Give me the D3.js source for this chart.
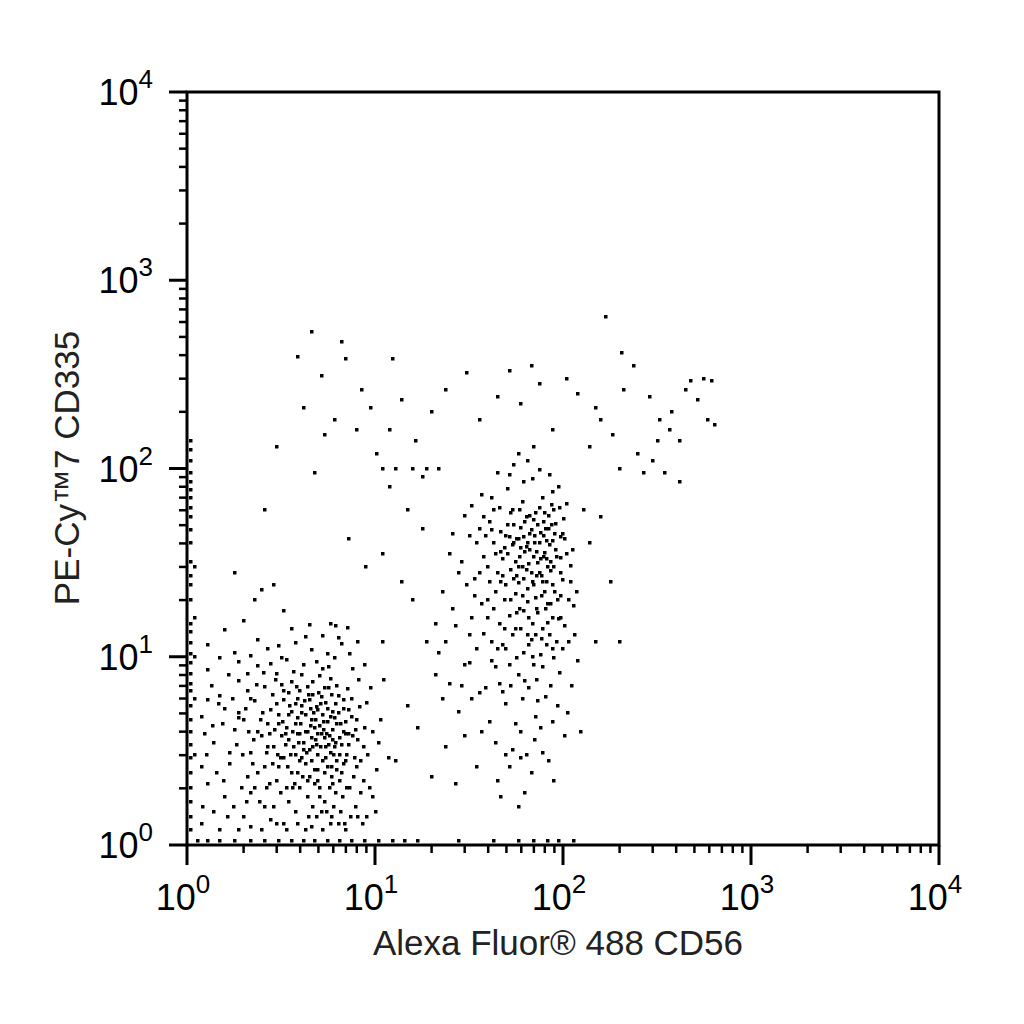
<!DOCTYPE html>
<html><head><meta charset="utf-8">
<script src="https://cdn.jsdelivr.net/npm/d3@7"></script>
<style>body{margin:0;background:#fff}svg{font-family:Arial,"Liberation Sans",sans-serif}</style>
</head><body><svg width="1024" height="1024"></svg>
<script>
// dot plot events: [CD56, CD335]
const lowCluster = [
[1.2,1.3],[1.3,2.1],[1.4,3.5],[1.2,4.8],[1.5,6.2],[1.3,8.5],[1.6,1.8],[1.7,2.7],[1.8,4.1],[1.6,5.3],
[1.9,7.4],[1.8,10.5],[2.0,1.4],[2.1,2.3],[2.2,3.1],[2.0,4.6],[2.3,5.8],[2.1,8.1],[2.4,12.2],[2.2,1.9],
[2.5,1.2],[2.6,2.6],[2.5,3.8],[2.7,4.4],[2.6,6.9],[2.8,9.2],[2.9,1.6],[3.0,2.2],[2.9,3.3],[3.1,4.9],
[3.0,5.6],[3.2,7.1],[3.1,11.4],[3.3,1.3],[3.4,2.0],[3.3,2.9],[3.5,3.6],[3.4,4.2],[3.6,5.1],[3.5,6.4],
[3.7,8.3],[3.6,14.1],[3.8,1.5],[3.9,2.4],[3.8,3.0],[4.0,3.9],[3.9,4.7],[4.1,5.5],[4.0,6.6],[4.2,9.0],
[4.3,1.2],[4.4,1.8],[4.3,2.7],[4.5,3.2],[4.4,4.0],[4.6,4.6],[4.5,5.9],[4.7,7.3],[4.6,10.8],[4.8,2.1],
[4.9,1.4],[5.0,2.5],[4.9,3.4],[5.1,4.3],[5.0,5.2],[5.2,6.1],[5.1,7.9],[5.3,12.9],[5.4,1.7],[5.5,2.9],
[5.4,3.7],[5.6,4.5],[5.5,5.7],[5.7,8.8],[5.8,1.3],[5.9,2.3],[5.8,3.1],[6.0,4.1],[5.9,6.3],[6.1,9.9],
[6.2,1.9],[6.3,2.8],[6.2,3.5],[6.4,5.0],[6.3,7.0],[6.6,1.5],[6.7,2.4],[6.6,4.4],[6.8,5.9],[6.7,11.7],
[7.0,1.2],[7.1,3.0],[7.0,3.9],[7.2,6.7],[7.4,2.0],[7.5,4.8],[7.6,8.6],[7.9,1.6],[8.0,2.6],[8.1,3.6],
[8.3,5.4],[8.6,1.3],[8.7,2.2],[8.9,4.2],[9.2,3.0],[9.5,6.8],[9.8,1.8],[10.3,2.5],[10.8,4.6],[1.2,2.6],
[1.4,1.5],[1.3,5.9],[1.5,9.8],[1.7,3.1],[1.9,1.2],[1.9,5.0],[2.1,6.6],[2.3,2.0],[2.4,4.0],[2.6,1.6],
[2.7,3.3],[2.8,5.2],[3.0,1.3],[3.1,2.6],[3.2,3.8],[3.3,5.9],[3.4,9.6],[3.5,1.7],[3.6,2.4],[3.7,3.3],
[3.8,4.4],[3.9,6.0],[4.0,2.0],[4.1,2.9],[4.2,3.5],[4.3,4.9],[4.4,6.9],[4.5,2.3],[4.6,3.7],[4.7,1.6],
[4.8,4.2],[4.9,5.4],[5.0,3.0],[5.1,2.0],[5.2,3.9],[5.3,4.9],[5.4,6.8],[5.6,2.6],[5.7,3.4],[5.8,4.8],
[6.0,2.1],[6.1,3.3],[6.2,5.6],[6.4,1.3],[6.5,3.7],[6.8,2.7],[7.0,4.5],[7.3,3.4],[7.7,2.3],[8.2,7.5],
[2.0,15.5],[2.3,20.0],[2.5,22.5],[3.3,17.5],[4.5,14.8],[5.8,15.0],[7.2,14.2],[2.9,24.0],[1.8,28.0],[6.4,12.6]
];
const lowCore = [
[1.25,3.9],[1.35,7.0],[1.45,2.4],[1.55,4.4],[1.65,1.4],[1.75,6.0],[1.85,3.4],[1.95,2.0],[2.05,5.3],[2.15,4.0],
[2.25,2.7],[2.35,7.1],[2.45,1.7],[2.55,5.0],[2.65,3.1],[2.75,2.1],[2.85,6.3],[2.95,4.1],[3.05,3.0],[3.15,1.9],
[3.25,4.5],[3.35,3.4],[3.45,2.6],[3.55,5.5],[3.65,4.0],[3.75,2.1],[3.85,6.9],[3.95,3.5],[4.05,4.4],[4.15,2.3],
[4.25,5.8],[4.35,3.1],[4.45,1.4],[4.55,4.3],[4.65,2.8],[4.75,5.0],[4.85,3.6],[4.95,2.2],[5.05,6.4],[5.15,3.3],
[5.25,1.5],[5.35,4.1],[5.45,2.4],[5.55,3.9],[5.65,5.3],[5.75,2.0],[5.85,7.6],[5.95,3.6],[6.05,1.6],[6.15,4.7],
[6.25,2.5],[6.45,6.2],[6.55,3.0],[6.75,1.8],[6.85,4.0],[7.05,2.8],[7.25,5.2],[7.45,1.4],[7.65,3.8],[7.85,2.9],
[8.05,4.6],[8.45,1.9],[8.75,3.3],[9.05,5.7],[9.35,2.0],[9.7,4.0],[10.1,1.5],[10.5,3.5],[11.2,7.5],[11.8,2.9],
[1.3,11.5],[1.6,13.8],[2.2,10.1],[2.7,11.0],[3.2,9.9],[3.8,11.8],[4.3,12.7],[4.9,9.4],[5.6,10.4],[6.2,14.5],
[7.4,10.3],[8.1,12.0],[8.9,9.0],[3.0,8.1],[3.6,7.3],[4.1,8.0],[4.7,6.3],[5.3,8.6],[2.4,8.9],[1.9,9.4],
[3.4,1.2],[3.9,1.3],[4.6,1.25],[5.3,1.2],[5.9,1.4],[6.9,1.3],[2.8,1.35],[2.2,1.25],[1.5,1.2],[8.1,1.4]
];
const lowExtra = [
[1.22,1.6],[1.28,3.0],[1.38,4.3],[1.48,5.6],[1.58,2.2],[1.68,8.0],[1.78,1.6],[1.88,4.7],[1.98,3.0],[2.08,1.7],
[2.18,6.0],[2.28,3.6],[2.38,2.4],[2.48,4.6],[2.58,8.2],[2.68,2.0],[2.78,3.9],[2.88,2.7],[2.98,7.5],[3.08,4.4],
[3.18,2.9],[3.28,6.6],[3.38,3.9],[3.48,4.9],[3.58,3.0],[3.68,2.0],[3.78,5.6],[3.88,3.9],[3.98,2.8],[4.08,5.0],
[4.18,3.2],[4.28,4.0],[4.38,2.2],[4.48,6.3],[4.58,5.3],[4.68,3.3],[4.78,2.5],[4.88,4.6],[4.98,3.9],[5.08,1.8],
[5.18,5.6],[5.28,2.8],[5.38,4.5],[5.48,3.3],[5.58,1.5],[5.68,6.8],[5.78,3.8],[5.88,2.6],[5.98,5.1],[6.08,3.0],
[6.28,4.4],[6.48,2.2],[6.68,3.4],[6.88,5.3],[7.08,2.0],[7.28,3.9],[7.58,6.0],[7.88,4.1],[8.38,2.8],[9.1,1.4]
];
const highCluster = [
[22,10.5],[25,7.2],[28,5.1],[30,3.8],[27,14.5],[32,9.3],[34,21.0],[35,2.6],[36,6.4],[38,13.2],
[40,30.0],[41,4.5],[42,47.0],[43,18.0],[44,8.8],[45,2.2],[46,62.0],[47,25.0],[48,11.5],[49,38.0],
[50,5.6],[51,78.0],[52,16.5],[53,29.0],[54,3.2],[55,50.0],[56,21.5],[57,9.8],[58,42.0],[59,34.0],
[60,14.0],[61,66.0],[62,26.0],[63,7.4],[64,55.0],[65,19.5],[66,31.0],[67,45.0],[68,12.3],[69,88.0],
[70,24.0],[71,3.6],[72,58.0],[73,36.0],[74,17.0],[75,40.0],[76,10.2],[77,27.0],[78,70.0],[79,52.0],
[80,22.0],[81,6.1],[82,33.0],[83,15.2],[84,48.0],[86,28.5],[88,11.0],[90,60.0],[92,37.0],[94,20.0],
[96,8.2],[98,43.0],[100,25.5],[103,14.5],[106,5.0],[110,30.5],[115,18.5],[120,9.5],[125,4.0],[35,40.0],
[38,55.0],[40,20.0],[42,12.0],[44,35.0],[46,15.0],[48,27.0],[50,44.0],[52,9.0],[54,60.0],[56,32.0],
[58,24.5],[60,48.5],[62,17.5],[64,38.5],[66,11.5],[68,28.0],[70,53.0],[72,20.5],[74,31.5],[76,45.5],
[78,14.0],[80,35.5],[82,25.0],[84,56.0],[86,19.0],[88,41.0],[90,30.0],[92,51.0],[95,15.8],[98,33.5],
[30,56.0],[33,63.0],[37,72.0],[45,95.0],[55,105.0],[65,110.0],[75,98.0],[85,92.0],[95,80.0],[105,65.0],
[26,45.0],[29,32.0],[31,24.0],[33,16.0],[36,28.0],[39,6.8],[52,2.6],[60,2.9],[68,2.4],[78,3.1],
[63,1.9],[58,1.6],[47,1.8],[90,2.2],[102,3.8],[112,7.0],[108,12.0],[118,22.0],[100,45.0],[48,6.5]
];
const highCore = [
[41,52],[43,40],[45,28],[47,46],[49,20],[51,35],[53,58],[55,26],[57,42],[59,18],
[61,30],[63,52],[65,23],[67,37],[69,15],[71,44],[73,27],[75,62],[77,21],[79,34],
[81,48],[83,19],[85,39],[87,64],[89,24],[91,45],[93,12],[97,28],[101,54],[105,35],
[44,22],[48,33],[52,43],[56,14],[60,38],[64,29],[68,47],[72,13],[76,33],[80,58],
[50,24],[54,39],[58,30],[62,43],[66,16],[70,34],[74,50],[78,25],[82,41],[86,32],
[38,34],[36,48],[34,26],[32,44],[40,16],[42,9.5],[46,7.2],[50,11],[54,13],[58,8.0],
[62,10.5],[66,6.8],[70,9.0],[74,5.8],[78,8.8],[82,11.5],[86,7.0],[90,9.8],[94,5.5],[98,16],
[30,9.0],[26,18],[24,12],[33,6.0],[37,4.0],[44,3.5],[56,4.4],[64,3.0],[72,4.8],[84,2.8],
[100,11],[108,20],[113,37],[96,62],[88,75],[62,85],[52,92],[42,70],[58,120],[70,130]
];
const highExtra = [
[39,44],[43,60],[47,36],[51,50],[55,40],[59,60],[63,36],[67,56],[71,40],[75,28],
[79,44],[83,30],[87,50],[91,22],[53,20],[57,27],[61,21],[65,40],[69,25],[73,18],
[49,14],[53,7.0],[57,17],[61,6.0],[65,13],[69,10],[73,7.5],[77,12.5],[81,18],[85,13],
[45,11],[41,25],[37,19],[35,11],[29,7.0],[32,13],[89,16],[93,34],[97,21],[103,42],
[110,25],[116,13],[28,28],[25,35],[23,22],[21,15],[60,4.0],[76,4.2],[88,4.5],[50,3.0]
];
const scattered = [
[4.6,530],[5.2,310],[3.9,390],[6.7,470],[4.2,210],[3.0,130],[4.8,95],[5.4,150],[6.1,180],[8.0,160],
[9.5,210],[10.2,120],[12.5,380],[14.0,230],[16.5,140],[18.0,90],[20,200],[24,260],[31,320],[36,180],
[45,240],[52,330],[60,220],[68,350],[75,280],[88,160],[105,300],[120,250],[150,210],[170,640],
[185,150],[205,410],[240,350],[290,240],[330,180],[380,200],[420,140],[480,290],[520,230],[590,180],
[300,110],[350,95],[420,85],[250,120],[200,100],[160,180],[140,130],[210,260],[560,300],[450,260],
[12,80],[15,60],[18,48],[11,35],[14,25],[16,20],[19,12],[21,8],[23,6],[17,4.2],[13,2.8],[20,2.3],
[24,3.3],[27,2.1],[15,5.5],[11,12],[9,30],[7.3,42],[2.6,60],[1.1,30],[1.1,16],[1.1,10],[1.1,6],[1.1,3],
[150,12],[200,12],[180,25],[140,40],[130,60],[160,55],[11,100],[13,100],[16,100],[19,100],[22,100],
[270,95],[320,140],[370,160],[640,170],[620,290],[12,160],[8.5,260],[7,380]
];
const floorY = [1.2,1.4,1.7,2.0,2.4,2.9,3.4,4.0,4.6,5.5,6.6,7.2,8.1,9.3,10.4,11.8,13.5,15.0,20.0,24.0,27.0,32.0,40.0,47.0,55.0,62.0,70.0,77.0,85.0,95.0,110.0,125.0,140.0];
const floorX = [1.15,1.3,1.5,1.8,2.2,2.6,3.1,3.6,4.2,4.8,5.6,6.5,7.5,8.8,10.5,12.5,14.5,17.0,28.0,43.0,58.0,70.0,83.0,95.0,115.0];
const decades = [0, 1, 2, 3, 4];

const svg = d3.select('svg');
const x = d3.scaleLog().domain([1, 1e4]).range([187, 939]);
const y = d3.scaleLog().domain([1, 1e4]).range([845, 92]);

const events = lowCluster.concat(lowCore, lowExtra, highCluster, highCore, highExtra, scattered,
  floorY.map(v => [1.05, v]), floorX.map(v => [v, 1.05]));

svg.append('g').selectAll('rect').data(events).join('rect')
  .attr('x', d => Math.round(x(d[0])) - 2).attr('y', d => Math.round(y(d[1])) - 2)
  .attr('width', 3.5).attr('height', 3.5).attr('fill', '#000');

// frame
svg.append('rect').attr('x', 187).attr('y', 92).attr('width', 752).attr('height', 753)
  .attr('fill', 'none').attr('stroke', '#000').attr('stroke-width', 3);

const minors = [];
decades.slice(0, 4).forEach(e => { for (let k = 2; k <= 9; k++) minors.push(k * Math.pow(10, e)); });
const majors = decades.map(e => Math.pow(10, e));

const xAxis = svg.append('g').attr('transform', 'translate(0,845)');
xAxis.selectAll('.mn').data(minors).join('line')
  .attr('x1', d => x(d)).attr('x2', d => x(d)).attr('y1', 0).attr('y2', 8)
  .attr('stroke', '#000').attr('stroke-width', 2.5);
xAxis.selectAll('.mj').data(majors).join('line')
  .attr('x1', d => x(d)).attr('x2', d => x(d)).attr('y1', 0).attr('y2', 20)
  .attr('stroke', '#000').attr('stroke-width', 3);
const xl = xAxis.selectAll('text').data(decades).join('text')
  .attr('x', d => x(Math.pow(10, d)) - 4).attr('y', 65).attr('text-anchor', 'middle')
  .attr('font-size', 36).text('10');
xl.append('tspan').attr('dy', -17).attr('font-size', 26).text(d => d);

const yAxis = svg.append('g').attr('transform', 'translate(187,0)');
yAxis.selectAll('.mn').data(minors).join('line')
  .attr('y1', d => y(d)).attr('y2', d => y(d)).attr('x1', 0).attr('x2', -8)
  .attr('stroke', '#000').attr('stroke-width', 2.5);
yAxis.selectAll('.mj').data(majors).join('line')
  .attr('y1', d => y(d)).attr('y2', d => y(d)).attr('x1', 0).attr('x2', -18)
  .attr('stroke', '#000').attr('stroke-width', 3);
const yl = yAxis.selectAll('text').data(decades).join('text')
  .attr('x', -34).attr('y', d => y(Math.pow(10, d)) + 13).attr('text-anchor', 'end')
  .attr('font-size', 36).text('10');
yl.append('tspan').attr('dy', -17).attr('font-size', 26).text(d => d);

svg.append('text').attr('x', 558).attr('y', 955).attr('text-anchor', 'middle')
  .attr('font-size', 35).attr('fill', '#222').text('Alexa Fluor® 488 CD56');
svg.append('text').attr('transform', 'translate(79,468) rotate(-90)').attr('text-anchor', 'middle')
  .attr('font-size', 35).attr('fill', '#222').text('PE-Cy™7 CD335');
</script></body></html>
